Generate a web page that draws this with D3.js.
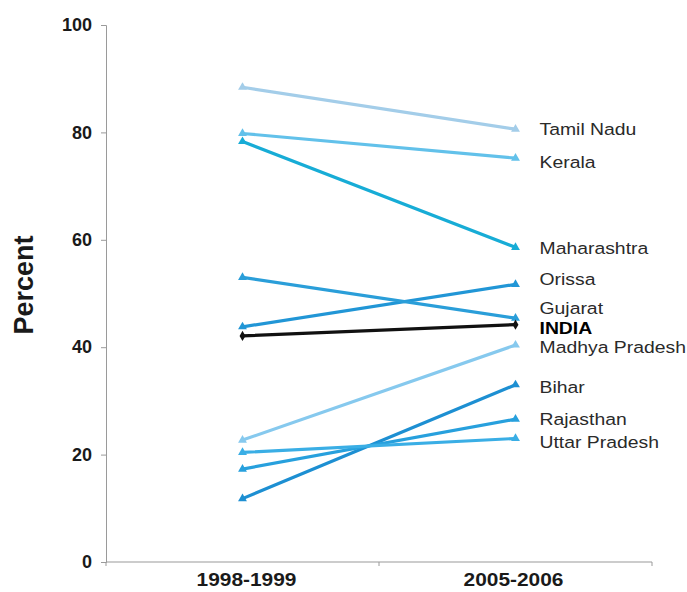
<!DOCTYPE html>
<html>
<head>
<meta charset="utf-8">
<script src="https://cdn.jsdelivr.net/npm/d3@7"></script>
<style>
  html, body { margin: 0; padding: 0; background: #fff; }
  svg { display: block; font-family: "Liberation Sans", Arial, sans-serif; }
</style>
</head>
<body>
<svg id="chart" width="687" height="592"></svg>
<script>
// ---- data ----
const periods = ["1998-1999", "2005-2006"];
const states = ["Tamil Nadu", "Kerala", "Maharashtra", "Orissa", "Gujarat", "INDIA",
                "Madhya Pradesh", "Bihar", "Rajasthan", "Uttar Pradesh"];
const values1998 = [88.4, 79.8, 78.3, 43.8, 53.0, 42.1, 22.7, 11.8, 17.3, 20.4];
const values2005 = [80.6, 75.2, 58.6, 51.7, 45.4, 44.2, 40.4, 33.0, 26.6, 23.0];
const yTicks = [0, 20, 40, 60, 80, 100];

// ---- styling (not data) ----
const colors = ["#a3cde9", "#62c1ea", "#17acd6", "#2196d6", "#2a9ed9", "#111111",
                "#86c9ee", "#1d8fd2", "#27a0dd", "#3aaee5"];
const labelNudge = [0, 4, 1, -5, -10, 3, 2, 2, 0, 3];

const svg = d3.select("#chart");
const x = d3.scalePoint().domain(periods).range([106, 652]).padding(0.5);
const y = d3.scaleLinear().domain([0, 100]).range([562, 25]);

// y axis
const yAxis = svg.append("g")
  .attr("transform", "translate(106,0)")
  .call(d3.axisLeft(y).tickValues(yTicks).tickSize(5).tickPadding(9));
yAxis.select(".domain").attr("stroke", "#9a9a9a");
yAxis.selectAll(".tick line").attr("stroke", "#9a9a9a");
yAxis.selectAll(".tick text")
  .attr("fill", "#1a1a1a")
  .style("font-size", "18px")
  .style("font-weight", "bold")
  .style("font-family", "'Liberation Sans', Arial, sans-serif");

// x axis (line + boundary ticks)
const [x0, x1] = x.range();
const xAxisG = svg.append("g");
xAxisG.append("line")
  .attr("x1", x0).attr("x2", x1).attr("y1", y(0)).attr("y2", y(0))
  .attr("stroke", "#9a9a9a").attr("stroke-width", 1.2);
xAxisG.selectAll("line.b")
  .data([x0, (x0 + x1) / 2, x1])
  .enter().append("line")
  .attr("x1", d => d).attr("x2", d => d)
  .attr("y1", y(0)).attr("y2", y(0) + 4)
  .attr("stroke", "#9a9a9a");
xAxisG.selectAll("text")
  .data(periods)
  .enter().append("text")
  .attr("x", d => x(d) + (d === periods[0] ? 4 : -2))
  .attr("y", 586)
  .attr("text-anchor", "middle")
  .attr("fill", "#1a1a1a")
  .style("font-size", "18px")
  .style("font-weight", "bold")
  .attr("textLength", 100)
  .attr("lengthAdjust", "spacingAndGlyphs")
  .text(d => d);

// y title
svg.append("text")
  .attr("transform", "translate(33,285) rotate(-90)")
  .attr("text-anchor", "middle")
  .attr("fill", "#1a1a1a")
  .style("font-size", "27px")
  .style("font-weight", "bold")
  .text("Percent");

// series
const series = states.map((s, i) => ({
  name: s,
  color: colors[i],
  nudge: labelNudge[i],
  pts: [{p: periods[0], v: values1998[i]}, {p: periods[1], v: values2005[i]}]
}));

const line = d3.line().x(d => x(d.p)).y(d => y(d.v));

// draw light ones first, INDIA last
const order = series.slice().sort((a, b) => (a.name === "INDIA") - (b.name === "INDIA"));

const g = svg.append("g");
order.forEach(s => {
  const isIndia = s.name === "INDIA";
  g.append("path")
    .datum(s.pts)
    .attr("d", line)
    .attr("fill", "none")
    .attr("stroke", s.color)
    .attr("stroke-width", 3.2)
    .attr("stroke-linecap", "round");
  const sym = d3.symbol().type(isIndia ? d3.symbolDiamond : d3.symbolTriangle).size(isIndia ? 30 : 34);
  g.selectAll(null)
    .data(s.pts)
    .enter().append("path")
    .attr("d", sym)
    .attr("transform", d => `translate(${x(d.p)},${y(d.v)})`)
    .attr("fill", s.color);
});

// right labels
svg.append("g").selectAll("text")
  .data(series)
  .enter().append("text")
  .attr("transform", d => `translate(${x(periods[1]) + 24},${y(d.pts[1].v) + d.nudge}) scale(1.14,1)`)
  .attr("dy", "0.36em")
  .attr("fill", d => d.name === "INDIA" ? "#000" : "#2a2a2a")
  .style("font-size", "17px")
  .style("font-weight", d => d.name === "INDIA" ? "bold" : "normal")
  .text(d => d.name);
</script>
</body>
</html>
